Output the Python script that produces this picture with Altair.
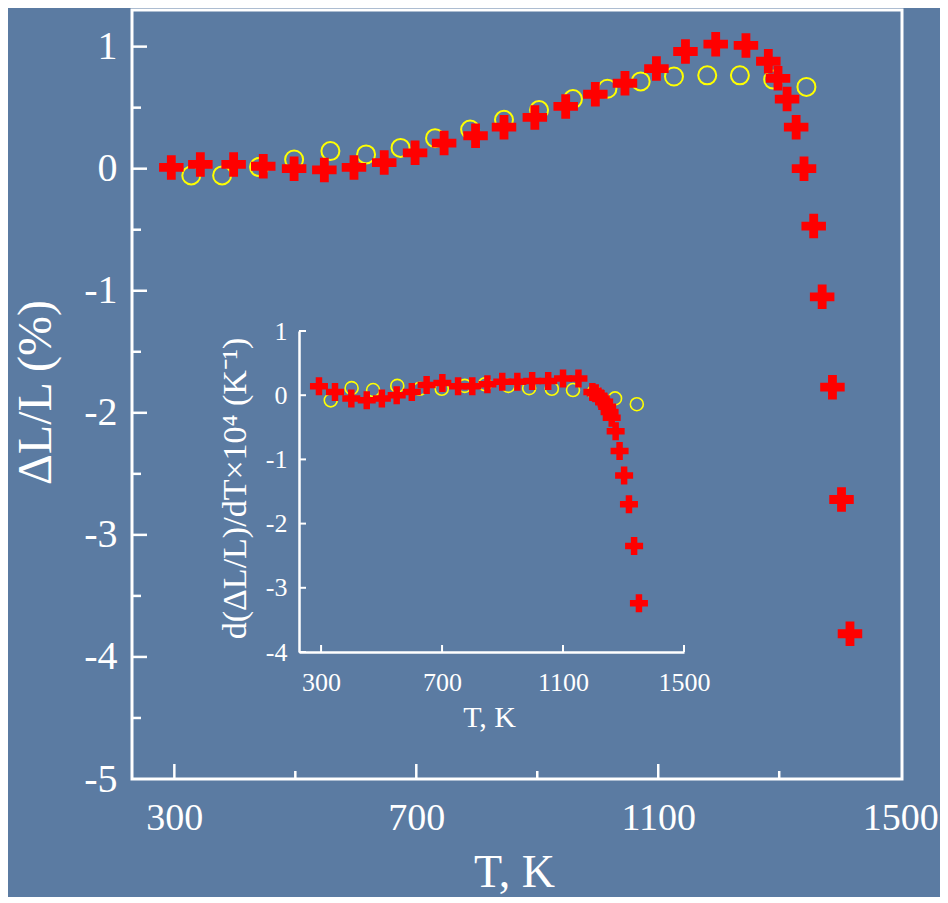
import altair as alt
import pandas as pd

FONT = "Liberation Serif"
WHITE = "#ffffff"
BG = "#5b7ba2"
RED = "#ff0000"
YELLOW = "#ffff00"

# ---------------- main panel data ----------------
main_cross_T = [295, 343, 398, 447, 498, 548, 597, 647, 698, 746, 798, 845, 896, 947,
                996, 1045, 1097, 1145, 1195, 1245, 1282, 1298, 1313, 1328, 1341, 1357,
                1371, 1388, 1403, 1417]
main_cross_v = [0.01, 0.035, 0.035, 0.02, 0.0, -0.01, 0.01, 0.05, 0.13, 0.21, 0.27, 0.34,
                0.42, 0.51, 0.61, 0.70, 0.82, 0.96, 1.02, 1.01, 0.88, 0.74, 0.57, 0.34,
                0.0, -0.47, -1.05, -1.79, -2.71, -3.81]
main_circ_T = [328, 379, 440, 498, 558, 617, 674, 731, 789, 845, 903, 959, 1016, 1071,
               1126, 1181, 1235, 1290, 1345]
main_circ_v = [-0.055, -0.055, 0.013, 0.075, 0.144, 0.117, 0.17, 0.25, 0.32, 0.40, 0.48,
               0.57, 0.655, 0.715, 0.755, 0.765, 0.765, 0.73, 0.67]

# ---------------- inset data ----------------
inset_cross_T = [293, 346, 400, 451, 501, 550, 600, 649, 701, 753, 800, 850, 899, 949,
                 998, 1051, 1100, 1151, 1197, 1208, 1217, 1225, 1236, 1246, 1254, 1261,
                 1274, 1287, 1302, 1318, 1335, 1351]
inset_cross_v = [0.14, 0.05, -0.05, -0.08, -0.05, 0.0, 0.05, 0.16, 0.19, 0.14, 0.14, 0.17,
                 0.21, 0.21, 0.22, 0.22, 0.26, 0.26, 0.05, 0.03, -0.02, -0.05, -0.10, -0.18,
                 -0.26, -0.35, -0.56, -0.87, -1.25, -1.70, -2.35, -3.24]
inset_circ_T = [332, 401, 472, 552, 626, 699, 775, 842, 919, 988, 1063, 1133, 1202, 1272, 1344]
inset_circ_v = [-0.08, 0.11, 0.08, 0.145, 0.10, 0.10, 0.145, 0.17, 0.145, 0.11, 0.10, 0.08,
                0.05, -0.05, -0.14]

# axis tick values
main_x_labels = [300, 700, 1100, 1500]
main_x_major = [300, 700, 1100]
main_x_minor = [500, 900, 1300]
main_y_labels = [-5, -4, -3, -2, -1, 0, 1]
main_y_major = [-4, -3, -2, -1, 0, 1]
main_y_minor = [-4.5, -3.5, -2.5, -1.5, -0.5, 0.5]
inset_x_labels = [300, 700, 1100, 1500]
inset_y_labels = [-4, -3, -2, -1, 0, 1]

W, H = 770, 769
CROSS = "M-1,-0.36H-0.36V-1H0.36V-0.36H1V0.36H0.36V1H-0.36V0.36H-1Z"
NEG = "(datum.value < 0 ? '-' : '') + abs(datum.value)"
PLAIN = "'' + datum.value"


def main_xs():
    return alt.Scale(domain=[230, 1503], nice=False, zero=False)


def main_ys():
    return alt.Scale(domain=[-5, 1.30], nice=False, zero=False)


def ins_xs():
    return alt.Scale(domain=[227, 1500], range=[167, 552], nice=False, zero=False)


def ins_ys():
    return alt.Scale(domain=[-4, 1], range=[642, 321], nice=False, zero=False)


main_x_axis = alt.Axis(values=main_x_labels, orient="bottom", ticks=False, domain=False,
                       grid=False, labelFont=FONT, labelFontSize=38, labelColor=WHITE,
                       labelPadding=39, labelBaseline="middle", labelFlush=False,
                       labelOverlap=False, labelExpr=PLAIN,
                       title="T, K", titleFont=FONT, titleFontSize=46, titleFontWeight="normal",
                       titleColor=WHITE, titleX=382, titleY=107, titleAlign="center",
                       titleBaseline="alphabetic")
main_y_axis = alt.Axis(values=main_y_labels, orient="left", ticks=False, domain=False,
                       grid=False, labelFont=FONT, labelFontSize=40, labelColor=WHITE,
                       labelPadding=15, labelExpr=NEG, labelFlush=False, labelOverlap=False,
                       title="ΔL/L (%)", titleFont=FONT, titleFontSize=48,
                       titleFontWeight="normal", titleColor=WHITE, titleAngle=270,
                       titleX=-96, titleY=382, titleAlign="center", titleBaseline="middle")

ins_x_axis = alt.Axis(values=inset_x_labels, orient="bottom", offset=-127, ticks=False,
                      domain=True, domainColor=WHITE, domainWidth=2.5, grid=False,
                      labelFont=FONT, labelFontSize=26, labelColor=WHITE, labelPadding=30,
                      labelBaseline="middle", labelFlush=False, labelOverlap=False,
                      labelExpr=PLAIN,
                      title="T, K", titleFont=FONT, titleFontSize=30, titleFontWeight="normal",
                      titleColor=WHITE, titleX=357, titleY=65, titleAlign="center",
                      titleBaseline="middle")
ins_y_axis = alt.Axis(values=inset_y_labels, orient="left", offset=-167, ticks=False,
                      domain=True, domainColor=WHITE, domainWidth=2.5, grid=False,
                      labelFont=FONT, labelFontSize=26, labelColor=WHITE, labelPadding=12,
                      labelExpr=NEG, labelFlush=False, labelOverlap=False,
                      title="d(ΔL/L)/dT×10⁴ (K⁻¹)", titleFont=FONT, titleFontSize=34,
                      titleFontWeight="normal", titleColor=WHITE, titleAngle=270,
                      titleX=-64, titleY=478, titleAlign="center", titleBaseline="middle")

df_mc = pd.DataFrame({"T": main_circ_T, "v": main_circ_v})
df_mx = pd.DataFrame({"T": main_cross_T, "v": main_cross_v})
df_ic = pd.DataFrame({"T": inset_circ_T, "v": inset_circ_v})
df_ix = pd.DataFrame({"T": inset_cross_T, "v": inset_cross_v})

layers = []

# ---- main panel ----
layers.append(alt.Chart(df_mc).mark_point(shape="circle", filled=False, color=YELLOW,
                                          strokeWidth=2, size=324, opacity=1).encode(
    x=alt.X("T:Q", scale=main_xs(), axis=main_x_axis),
    y=alt.Y("v:Q", scale=main_ys(), axis=main_y_axis)))
layers.append(alt.Chart(pd.DataFrame({"T": main_x_major})).mark_rule(
    color=WHITE, strokeWidth=2.5).encode(
    x=alt.X("T:Q", scale=main_xs(), axis=None), y=alt.value(H), y2=alt.value(H - 15)))
layers.append(alt.Chart(pd.DataFrame({"T": main_x_minor})).mark_rule(
    color=WHITE, strokeWidth=2.5).encode(
    x=alt.X("T:Q", scale=main_xs(), axis=None), y=alt.value(H), y2=alt.value(H - 8)))
layers.append(alt.Chart(pd.DataFrame({"v": main_y_major})).mark_rule(
    color=WHITE, strokeWidth=2.5).encode(
    y=alt.Y("v:Q", scale=main_ys(), axis=None), x=alt.value(0), x2=alt.value(15)))
layers.append(alt.Chart(pd.DataFrame({"v": main_y_minor})).mark_rule(
    color=WHITE, strokeWidth=2.5).encode(
    y=alt.Y("v:Q", scale=main_ys(), axis=None), x=alt.value(0), x2=alt.value(9)))
layers.append(alt.Chart(df_mx).mark_point(shape=CROSS, filled=True, color=RED, size=600,
                                          opacity=1, strokeWidth=0).encode(
    x=alt.X("T:Q", scale=main_xs(), axis=None),
    y=alt.Y("v:Q", scale=main_ys(), axis=None)))

# ---- inset ----
layers.append(alt.Chart(df_ic).mark_point(shape="circle", filled=False, color=YELLOW,
                                          strokeWidth=1.6, size=169, opacity=1).encode(
    x=alt.X("T:Q", scale=ins_xs(), axis=ins_x_axis),
    y=alt.Y("v:Q", scale=ins_ys(), axis=ins_y_axis)))
layers.append(alt.Chart(pd.DataFrame({"T": inset_x_labels})).mark_rule(
    color=WHITE, strokeWidth=2).encode(
    x=alt.X("T:Q", scale=ins_xs(), axis=None), y=alt.value(642), y2=alt.value(635)))
layers.append(alt.Chart(pd.DataFrame({"v": inset_y_labels})).mark_rule(
    color=WHITE, strokeWidth=2).encode(
    y=alt.Y("v:Q", scale=ins_ys(), axis=None), x=alt.value(167), x2=alt.value(174)))
layers.append(alt.Chart(df_ix).mark_point(shape=CROSS, filled=True, color=RED, size=324,
                                          opacity=1, strokeWidth=0).encode(
    x=alt.X("T:Q", scale=ins_xs(), axis=None),
    y=alt.Y("v:Q", scale=ins_ys(), axis=None)))

chart = alt.layer(*layers).resolve_scale(
    x="independent", y="independent").properties(
    width=W, height=H,
    padding={"left": 124, "top": 2, "right": 38, "bottom": 118},
    autosize=alt.AutoSizeParams(type="none"),
    background=BG,
).configure_view(stroke=WHITE, strokeWidth=3)

chart.save("out.html", embed_options={"renderer": "svg", "actions": False})
